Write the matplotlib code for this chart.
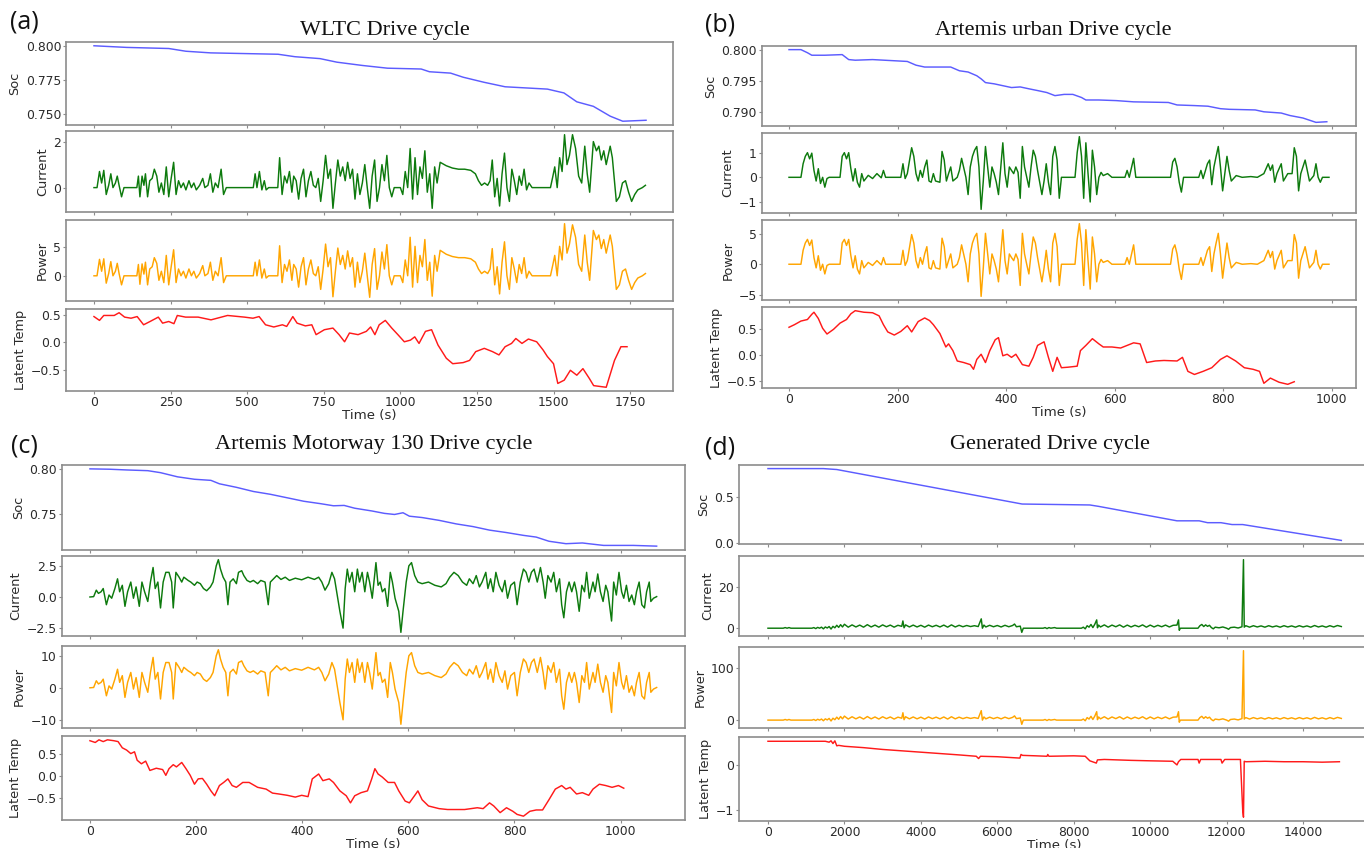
import matplotlib
matplotlib.use("Agg")
import matplotlib.pyplot as plt
from matplotlib.ticker import FixedLocator

# ---------------- (a) WLTC ----------------
wltc_soc_t = [0, 107, 244, 300, 381, 601, 656, 738, 793, 876, 958, 1068, 1095, 1164, 1205,
              1273, 1342, 1480, 1534, 1576, 1630, 1685, 1726, 1802]
wltc_soc = [0.800, 0.7988, 0.798, 0.796, 0.7948, 0.7938, 0.792, 0.7906, 0.788, 0.7856, 0.7836,
            0.783, 0.781, 0.780, 0.777, 0.7733, 0.770, 0.7683, 0.7655, 0.759, 0.7557, 0.7485,
            0.7448, 0.7455]
wltc_t = [0, 10, 18, 25, 32, 40, 48, 55, 62, 70,
          76, 82, 90, 98, 140, 145, 150, 157, 163, 168,
          175, 182, 190, 197, 205, 212, 220, 228, 236, 244,
          252, 260, 268, 276, 284, 292, 300, 310, 318, 326,
          334, 345, 355, 362, 372, 380, 388, 396, 405, 415,
          423, 432, 520, 526, 532, 540, 548, 556, 562, 570,
          600, 606, 614, 622, 630, 638, 646, 652, 660, 668,
          676, 684, 692, 700, 708, 716, 724, 732, 740, 748,
          756, 764, 772, 780, 788, 796, 804, 812, 820, 828,
          836, 844, 852, 860, 868, 876, 884, 892, 900, 908,
          916, 924, 932, 940, 948, 956, 964, 972, 980, 1000,
          1008, 1016, 1024, 1032, 1040, 1048, 1056, 1064, 1072, 1080,
          1088, 1096, 1104, 1112, 1120, 1130, 1150, 1170, 1190, 1210,
          1230, 1245, 1255, 1265, 1275, 1285, 1293, 1300, 1308, 1316,
          1324, 1332, 1340, 1348, 1356, 1364, 1372, 1380, 1388, 1396,
          1404, 1412, 1420, 1430, 1490, 1498, 1504, 1512, 1520, 1528,
          1536, 1544, 1552, 1562, 1572, 1582, 1592, 1602, 1610, 1618,
          1630, 1640, 1648, 1656, 1664, 1672, 1685, 1692, 1705, 1715,
          1725, 1735, 1745, 1755, 1765, 1775, 1790, 1800]
wltc_current = [0, 0, 0.7, 0.2, 0.75, -0.3, 0.1, 0.6, 0.0, 0.2,
                0.5, 0.1, -0.4, 0, 0, 0.5, -0.4, 0.5, 0.1, 0.6,
                -0.4, 0.3, 0.4, 0.8, 0.5, -0.2, 0.2, -0.3, 0.9, -0.4,
                0.4, 1.1, -0.3, 0.3, 0.0, 0.2, -0.1, 0.3, 0.0, 0.2,
                -0.1, 0.1, 0.4, 0.0, 0.1, 0.6, -0.2, 0.2, 0.0, 0.8,
                -0.3, 0, 0, 0.6, 0, 0.7, -0.1, 0.3, -0.1, 0,
                0, 1.3, -0.3, 0.5, 0.2, 0.7, -0.2, 0.5, 0.3, -0.5,
                0.4, 0.8, -0.4, 0.3, 0.7, 0.1, 0.0, 0.4, -0.6, 0.3,
                1.4, 0.4, 0.8, -0.9, 0.2, 1.2, 0.5, 0.9, 0.3, 1.1,
                0.4, 0.8, -0.5, 0.6, -0.3, 0.2, 1.0, 0.0, -0.9, 0.5,
                1.2, -0.6, 0, 1.0, 0.3, 1.4, 0, -0.4, 0, 0,
                -0.3, 0.7, 0, 1.7, -0.5, 1.3, -0.3, 0.9, 0.4, 1.6,
                -0.2, 0.6, -0.9, 0.9, 0.2, 1.1, 0.95, 0.85, 0.8, 0.8,
                0.75, 0.6, 0.3, 0.1, 0.2, 0.1, 0.3, 1.2, -0.4, 0.4,
                -0.8, 0.6, 1.5, 0, -0.6, 0.8, 0.3, -0.3, 0.5, 0.1,
                0.8, -0.1, 0.2, 0, 0, 0.5, 0.9, 0, 1.3, 0.7,
                2.3, 1.0, 1.4, 2.3, 1.7, 0.5, 0.2, 1.8, 0.6, -0.2,
                2.0, 1.6, 1.8, 1.2, 1.6, 1.0, 1.8, 1.3, -0.6, -0.4,
                0.2, 0.3, -0.2, -0.6, -0.3, -0.1, 0.0, 0.1]
wltc_power = [0, 0, 2.9, 0.8, 3.0, -1.3, 0.4, 2.5, 0.0, 0.8,
              2.2, 0.4, -1.6, 0, 0, 2.0, -1.5, 2.1, 0.3, 2.4,
              -1.6, 1.2, 1.6, 3.2, 2.2, -0.8, 0.8, -1.2, 3.6, -1.6,
              1.6, 4.6, -1.2, 1.2, 0, 0.8, -0.4, 1.2, 0, 0.8,
              -0.4, 0.4, 1.8, 0, 0.4, 2.4, -0.8, 0.8, 0, 3.2,
              -1.2, 0, 0, 2.4, 0, 2.8, -0.4, 1.2, -0.4, 0,
              0, 5.3, -1.2, 2.0, 0.8, 2.8, -0.8, 2.0, 1.2, -2.0,
              1.6, 3.2, -1.6, 1.2, 2.8, 0.4, 0, 1.6, -2.4, 1.2,
              5.6, 1.6, 3.2, -3.7, 0.8, 4.9, 2.0, 3.6, 1.2, 4.4,
              1.6, 3.2, -2.0, 2.4, -1.2, 0.8, 4.0, 0, -3.8, 2.0,
              4.8, -2.4, 0, 4.2, 1.2, 5.5, 0, -1.6, 0, 0,
              -1.2, 2.8, 0, 6.8, -2.0, 5.2, -1.2, 3.6, 1.6, 6.4,
              -0.8, 2.4, -3.6, 3.6, 0.8, 4.5, 3.8, 3.4, 3.2, 3.2,
              3.0, 2.4, 1.2, 0.4, 0.8, 0.4, 1.2, 4.8, -1.6, 1.6,
              -3.2, 2.4, 6.0, 0, -2.4, 3.2, 1.2, -1.2, 2.0, 0.4,
              3.2, -0.4, 0.8, 0, 0, 2.0, 3.6, 0, 5.2, 2.8,
              9.2, 4.0, 5.6, 9.0, 6.8, 2.0, 0.8, 7.2, 2.4, -0.8,
              8.0, 6.4, 7.2, 4.8, 6.4, 4.0, 7.2, 5.2, -2.4, -1.6,
              0.8, 1.2, -0.8, -2.4, -1.2, -0.4, 0, 0.4]
wltc_temp_t = [0, 18, 32, 66, 82, 100, 121, 141, 162, 183,
               210, 224, 244, 261, 272, 299, 340, 382, 436, 491,
               519, 539, 560, 587, 615, 629, 649, 663, 690, 711,
               725, 752, 780, 800, 818, 834, 862, 889, 903, 917,
               931, 951, 972, 992, 1013, 1033, 1047, 1061, 1082, 1102,
               1123, 1150, 1171, 1205, 1226, 1246, 1274, 1301, 1322, 1342,
               1363, 1377, 1397, 1418, 1445, 1466, 1480, 1500, 1514, 1535,
               1555, 1576, 1596, 1617, 1631, 1672, 1699, 1720, 1740]
wltc_temp = [0.47, 0.40, 0.49, 0.49, 0.54, 0.46, 0.44, 0.47, 0.32, 0.38,
             0.46, 0.35, 0.38, 0.34, 0.49, 0.46, 0.46, 0.41, 0.49, 0.46,
             0.44, 0.47, 0.32, 0.28, 0.32, 0.29, 0.47, 0.35, 0.30, 0.32,
             0.14, 0.23, 0.26, 0.14, 0.01, 0.17, 0.14, 0.20, 0.28, 0.14,
             0.32, 0.40, 0.26, 0.14, 0.01, 0.04, 0.10, -0.02, 0.20, 0.23,
             -0.05, -0.29, -0.39, -0.37, -0.33, -0.17, -0.11, -0.17, -0.23, -0.08,
             -0.02, 0.07, -0.02, 0.06, 0.01, -0.14, -0.26, -0.39, -0.75, -0.69,
             -0.51, -0.60, -0.48, -0.66, -0.79, -0.82, -0.33, -0.08, -0.08]

# ---------------- (b) Artemis urban ----------------
urban_soc_t = [0, 22, 34, 42, 66, 98, 110, 122, 154, 218, 234, 250, 298, 314, 330, 346, 354,
               362, 378, 394, 410, 426, 442, 459, 475, 490, 507, 523, 539, 547, 571, 603,
               635, 699, 715, 747, 772, 795, 811, 859, 875, 907, 923, 947, 971, 991]
urban_soc = [0.800, 0.800, 0.7995, 0.7991, 0.7991, 0.7992, 0.7984, 0.7983, 0.7984, 0.7981,
             0.7975, 0.7972, 0.7972, 0.7966, 0.7964, 0.7958, 0.7953, 0.7947, 0.7945, 0.7942,
             0.7939, 0.794, 0.7937, 0.7934, 0.7931, 0.7926, 0.7928, 0.7928, 0.7923, 0.7919,
             0.7919, 0.7918, 0.7916, 0.7915, 0.7911, 0.791, 0.7909, 0.7905, 0.7904, 0.7903,
             0.79, 0.7898, 0.7894, 0.789, 0.7883, 0.7884]
urban_t = [0, 22, 26, 30, 34, 38, 42, 46, 50, 54,
           58, 62, 66, 70, 74, 94, 98, 102, 106, 110,
           114, 118, 122, 126, 130, 134, 138, 146, 154, 162,
           170, 174, 178, 206, 210, 214, 218, 226, 230, 234,
           238, 242, 246, 250, 254, 258, 262, 266, 270, 278,
           282, 286, 290, 294, 298, 302, 310, 314, 318, 326,
           330, 334, 338, 342, 346, 350, 354, 358, 362, 366,
           370, 374, 378, 382, 386, 394, 398, 402, 406, 410,
           414, 418, 422, 426, 430, 434, 438, 442, 446, 450,
           454, 458, 466, 470, 474, 478, 482, 486, 490, 494,
           498, 502, 527, 531, 535, 539, 543, 547, 551, 555,
           559, 563, 567, 571, 575, 579, 587, 595, 619, 623,
           627, 635, 639, 703, 707, 711, 715, 719, 723, 727,
           755, 759, 763, 771, 775, 779, 783, 787, 791, 795,
           799, 803, 807, 811, 815, 824, 835, 851, 863, 875,
           883, 887, 891, 895, 899, 907, 911, 919, 927, 931,
           935, 939, 943, 951, 955, 959, 967, 971, 975, 979,
           983, 995]
urban_current = [0, 0, 0.55, 0.85, 1.0, 0.75, 0.98, 0.28, -0.15, 0.35,
                 -0.25, 0, -0.4, -0.05, 0, 0, 0.85, 1.0, 0.75, 1.0,
                 0.35, -0.15, 0.35, -0.2, -0.4, 0.15, -0.15, 0.08, -0.05, 0.15,
                 -0.02, 0.28, 0, 0, 0.55, -0.05, 0.15, 1.2, 0.85, 0.15,
                 -0.15, 0.28, 0, 0.42, 0.7, -0.15, -0.2, 0.15, -0.15, -0.2,
                 1.05, 0.7, -0.15, 0.15, 0.42, -0.15, 0, 0.28, 0.77, 0,
                 -0.7, 0.42, 0.85, 1.1, 1.25, 0.42, -1.3, -0.15, 1.25, 0.42,
                 -0.4, 0.42, 0.15, -0.2, -0.7, 1.4, 0.15, -0.4, 0.42, 0.28,
                 0.15, 0.42, 0.2, -0.85, 1.25, 0.42, 0, -0.4, 0.42, 1.1,
                 0.85, 0.28, -0.7, -0.15, 0.55, -0.2, -0.7, 0.85, 1.25, 0.7,
                 -0.85, 0, 0, 1.0, 1.65, 0.85, -0.85, 1.4, 0.15, -1.0,
                 1.1, 0.42, -0.7, 0, 0.2, 0.07, 0.15, 0, 0, 0.28,
                 0, 0.77, 0, 0, 0.62, 0.77, 0.42, -0.2, -0.6, 0,
                 0, 0.28, -0.05, 0.55, 0.7, -0.3, 0.42, 0.85, 1.25, 0.42,
                 -0.55, 0.15, 0.85, 0.28, -0.15, 0.07, 0, 0.03, 0, 0.15,
                 0.55, 0.28, 0.5, -0.2, 0.15, 0.55, -0.15, 0.15, 0.15, 1.2,
                 0.85, -0.55, 0.15, 0.7, 0.28, -0.15, 0.07, 0.55, 0, -0.2,
                 0, 0]
urban_power = [0, 0, 2.3, 3.5, 4.1, 3.1, 4.0, 1.1, -0.6, 1.4,
               -1.0, 0, -1.6, -0.2, 0, 0, 3.5, 4.1, 3.1, 4.1,
               1.4, -0.6, 1.4, -0.8, -1.6, 0.6, -0.6, 0.3, -0.2, 0.6,
               -0.1, 1.1, 0, 0, 2.3, -0.2, 0.6, 4.9, 3.5, 0.6,
               -0.6, 1.1, 0, 1.7, 2.9, -0.6, -0.8, 0.6, -0.6, -0.8,
               4.3, 2.9, -0.6, 0.6, 1.7, -0.6, 0, 1.1, 3.2, 0,
               -2.9, 1.7, 3.5, 4.5, 5.1, 1.7, -5.3, -0.6, 5.1, 1.7,
               -1.6, 1.7, 0.6, -0.8, -2.9, 5.7, 0.6, -1.6, 1.7, 1.1,
               0.6, 1.7, 0.8, -3.5, 5.1, 1.7, 0, -1.6, 1.7, 4.5,
               3.5, 1.1, -2.9, -0.6, 2.3, -0.8, -2.9, 3.5, 5.1, 2.9,
               -3.5, 0, 0, 4.1, 6.7, 3.5, -3.5, 5.7, 0.6, -4.1,
               4.5, 1.7, -2.9, 0, 0.8, 0.3, 0.6, 0, 0, 1.1,
               0, 3.2, 0, 0, 2.5, 3.2, 1.7, -0.8, -2.5, 0,
               0, 1.1, -0.2, 2.3, 2.9, -1.2, 1.7, 3.5, 5.1, 1.7,
               -2.3, 0.6, 3.5, 1.1, -0.6, 0.3, 0, 0.1, 0, 0.6,
               2.3, 1.1, 2.1, -0.8, 0.6, 2.3, -0.6, 0.6, 0.6, 4.9,
               3.5, -2.3, 0.6, 2.9, 1.1, -0.6, 0.3, 2.3, 0, -0.8,
               0, 0]
urban_temp_t = [0, 10, 22, 34, 42, 46, 54, 62, 70, 82,
                94, 106, 114, 122, 138, 154, 166, 174, 182, 194,
                206, 218, 226, 238, 250, 259, 266, 278, 289, 294,
                302, 310, 322, 334, 340, 346, 354, 362, 370, 380,
                386, 394, 402, 410, 418, 430, 442, 450, 458, 470,
                478, 486, 494, 502, 514, 531, 537, 547, 559, 571,
                579, 595, 611, 635, 647, 659, 675, 691, 715, 725,
                735, 747, 763, 779, 795, 807, 823, 839, 855, 867,
                875, 887, 903, 919, 931]
urban_temp = [0.53, 0.58, 0.65, 0.68, 0.78, 0.82, 0.70, 0.51, 0.40, 0.49,
              0.61, 0.68, 0.79, 0.85, 0.82, 0.81, 0.75, 0.58, 0.44, 0.38,
              0.45, 0.56, 0.44, 0.64, 0.71, 0.66, 0.58, 0.41, 0.15, 0.21,
              0.08, -0.12, -0.15, -0.19, -0.28, -0.09, 0.01, -0.15, 0.08, 0.29,
              0.33, -0.02, 0.01, -0.05, 0.01, -0.19, -0.22, -0.05, 0.18, 0.25,
              -0.05, -0.32, -0.05, -0.25, -0.24, -0.22, 0.08, 0.18, 0.31, 0.21,
              0.15, 0.15, 0.13, 0.23, 0.21, -0.15, -0.12, -0.11, -0.12, -0.05,
              -0.32, -0.38, -0.32, -0.25, -0.09, -0.02, -0.12, -0.25, -0.28, -0.32,
              -0.55, -0.45, -0.53, -0.57, -0.52]

# ---------------- (c) Artemis Motorway 130 ----------------
motor_soc_t = [0, 37, 69, 109, 133, 165, 197, 228, 244, 276,
               308, 340, 372, 403, 435, 459, 479, 499, 531, 555,
               574, 590, 602, 626, 658, 690, 722, 753, 785, 817,
               841, 865, 897, 928, 944, 968, 992, 1024, 1068]
motor_soc = [0.800, 0.7996, 0.7988, 0.798, 0.7958, 0.7912, 0.7885, 0.7873, 0.7835, 0.7796,
             0.775, 0.7719, 0.768, 0.7642, 0.7615, 0.7592, 0.7596, 0.7565, 0.7535, 0.7508,
             0.7496, 0.7515, 0.7477, 0.7462, 0.7431, 0.7392, 0.7362, 0.7323, 0.7296, 0.7265,
             0.7246, 0.72, 0.7173, 0.7181, 0.717, 0.7154, 0.7154, 0.7154, 0.7146]
motor_t = [0, 7, 12, 16, 21, 25, 31, 36, 41, 47,
           52, 56, 61, 66, 71, 77, 82, 87, 93, 98,
           103, 109, 114, 119, 123, 128, 133, 138, 143, 149,
           154, 157, 162, 168, 173, 177, 185, 190, 197, 202,
           208, 214, 220, 227, 232, 238, 242, 246, 251, 256,
           260, 264, 270, 276, 280, 286, 290, 296, 302, 308,
           316, 322, 330, 336, 340, 346, 352, 360, 368, 376,
           387, 399, 411, 423, 431, 437, 443, 450, 456, 461,
           467, 471, 477, 481, 485, 489, 494, 499, 504, 508,
           513, 518, 523, 527, 532, 539, 543, 547, 551, 556,
           561, 566, 570, 575, 582, 586, 590, 596, 601, 606,
           612, 618, 626, 638, 650, 662, 671, 678, 686, 694,
           702, 710, 715, 722, 728, 734, 739, 746, 750, 755,
           760, 765, 771, 777, 782, 787, 793, 800, 805, 811,
           817, 822, 827, 832, 837, 843, 849, 854, 858, 863,
           869, 874, 879, 885, 889, 893, 898, 903, 908, 913,
           917, 922, 927, 932, 936, 941, 948, 952, 957, 962,
           967, 972, 976, 983, 987, 992, 997, 1002, 1006, 1011,
           1016, 1021, 1026, 1030, 1035, 1040, 1045, 1049, 1054, 1057,
           1062, 1068]
motor_current = [0, 0.03, 0.55, 0.29, 0.42, 0.68, -0.62, 0.16, -0.1, 0.68,
                 1.46, 0.42, 0.94, -0.75, 0.42, 1.2, -0.1, 0.81, -0.75, 1.2,
                 0.42, -0.36, 1.2, 2.37, 0.68, 1.2, -0.88, 1.2, 1.98, 1.98,
                 1.2, -0.88, 1.98, 1.59, 1.2, 1.59, 1.33, 1.2, 0.94, 1.2,
                 1.07, 0.68, 0.5, 0.81, 1.2, 2.5, 3.0, 2.24, 1.59, 1.2,
                 -0.62, 1.2, 1.46, 1.07, 1.98, 2.11, 1.72, 1.33, 1.2, 1.33,
                 1.07, 1.33, 1.2, -0.62, 1.2, 1.46, 1.72, 1.41, 1.59, 1.33,
                 1.51, 1.38, 1.59, 1.41, 1.59, 1.2, 0.55, 1.07, 1.98, 1.46,
                 -0.1, -1.15, -2.5, 0.68, 2.24, 1.2, 1.98, 0.42, 2.24, 1.2,
                 1.98, 0.42, 1.98, 1.2, -0.1, 2.76, 0.94, 1.2, 0.42, 0.68,
                 -0.75, 1.98, 1.2, -0.1, -1.15, -2.84, -1.15, 1.2, 2.5, 2.76,
                 1.72, 1.2, 1.07, 1.2, 0.94, 0.81, 1.07, 1.59, 1.98, 1.72,
                 1.2, 0.94, 1.46, 1.07, 1.72, 0.81, 1.2, 1.98, 0.68, 1.46,
                 0.42, 1.98, 0.94, 0.42, 1.33, -0.1, 0.94, 1.2, -0.62, 1.2,
                 2.24, 1.98, 1.2, 1.98, 2.24, 1.2, 2.37, 1.2, -0.1, 1.72,
                 1.2, 1.98, 0.42, 1.46, -0.62, -1.67, 0.42, 1.2, 0.42, 1.2,
                 0.42, -1.15, 0.94, 0.42, 1.98, -0.1, 1.2, 0.42, 1.85, 0.42,
                 -0.36, 0.94, 0.42, -1.93, 1.2, 0.16, 1.98, 0.42, -0.1, 0.94,
                 -0.36, 0.16, -0.62, 0.42, 1.2, -0.62, -0.88, 0.42, 1.2, -0.36,
                 -0.1, 0.03]
motor_power = [0, 0.1, 2.2, 1.2, 1.7, 2.7, -2.5, 0.6, -0.4, 2.7,
               5.8, 1.7, 3.8, -3.0, 1.7, 4.8, -0.4, 3.2, -3.0, 4.8,
               1.7, -1.4, 4.8, 9.5, 2.7, 4.8, -3.5, 4.8, 7.9, 7.9,
               4.8, -3.5, 7.9, 6.4, 4.8, 6.4, 5.3, 4.8, 3.8, 4.8,
               4.3, 2.7, 2.0, 3.2, 4.8, 10.0, 11.9, 9.0, 6.4, 4.8,
               -2.5, 4.8, 5.8, 4.3, 7.9, 8.4, 6.9, 5.3, 4.8, 5.3,
               4.3, 5.3, 4.8, -2.5, 4.8, 5.8, 6.9, 5.6, 6.4, 5.3,
               6.0, 5.5, 6.4, 5.6, 6.4, 4.8, 2.2, 4.3, 7.9, 5.8,
               -0.4, -4.6, -10.0, 2.7, 9.0, 4.8, 7.9, 1.7, 9.0, 4.8,
               7.9, 1.7, 7.9, 4.8, -0.4, 11.0, 3.8, 4.8, 1.7, 2.7,
               -3.0, 7.9, 4.8, -0.4, -4.6, -11.4, -4.6, 4.8, 10.0, 11.0,
               6.9, 4.8, 4.3, 4.8, 3.8, 3.2, 4.3, 6.4, 7.9, 6.9,
               4.8, 3.8, 5.8, 4.3, 6.9, 3.2, 4.8, 7.9, 2.7, 5.8,
               1.7, 7.9, 3.8, 1.7, 5.3, -0.4, 3.8, 4.8, -2.5, 4.8,
               9.0, 7.9, 4.8, 7.9, 9.0, 4.8, 9.5, 4.8, -0.4, 6.9,
               4.8, 7.9, 1.7, 5.8, -2.5, -6.7, 1.7, 4.8, 1.7, 4.8,
               1.7, -4.6, 3.8, 1.7, 7.9, -0.4, 4.8, 1.7, 7.4, 1.7,
               -1.4, 3.8, 1.7, -7.7, 4.8, 0.6, 7.9, 1.7, -0.4, 3.8,
               -1.4, 0.6, -2.5, 1.7, 4.8, -2.5, -3.5, 1.7, 4.8, -1.4,
               -0.4, 0.1]
motor_temp_t = [0, 10, 17, 25, 33, 45, 53, 61, 69, 77,
                84, 89, 97, 105, 113, 125, 137, 143, 149, 157,
                163, 173, 181, 189, 197, 204, 212, 220, 228, 235,
                244, 252, 260, 268, 276, 288, 300, 316, 332, 344,
                356, 372, 387, 399, 411, 419, 431, 439, 451, 459,
                471, 483, 491, 499, 511, 523, 531, 537, 543, 551,
                562, 574, 582, 594, 602, 614, 618, 626, 638, 658,
                674, 706, 730, 741, 753, 761, 773, 785, 797, 805,
                817, 829, 841, 853, 865, 877, 889, 897, 905, 917,
                928, 940, 948, 960, 972, 984, 996, 1006]
motor_temp = [0.80, 0.76, 0.82, 0.78, 0.82, 0.80, 0.78, 0.64, 0.59, 0.51,
              0.55, 0.36, 0.28, 0.34, 0.13, 0.18, 0.15, 0.02, 0.17, 0.26,
              0.21, 0.31, 0.17, 0.02, -0.18, -0.06, -0.05, -0.18, -0.33, -0.44,
              -0.21, -0.14, -0.06, -0.21, -0.25, -0.14, -0.14, -0.25, -0.29, -0.38,
              -0.40, -0.43, -0.47, -0.43, -0.46, -0.06, 0.05, -0.10, -0.06, -0.14,
              -0.33, -0.44, -0.60, -0.44, -0.37, -0.33, -0.06, 0.17, 0.05, -0.02,
              -0.14, -0.14, -0.33, -0.56, -0.60, -0.40, -0.33, -0.53, -0.67, -0.73,
              -0.75, -0.75, -0.71, -0.73, -0.60, -0.67, -0.82, -0.71, -0.79, -0.86,
              -0.90, -0.79, -0.76, -0.76, -0.53, -0.29, -0.21, -0.29, -0.25, -0.40,
              -0.37, -0.43, -0.29, -0.18, -0.21, -0.25, -0.21, -0.27]

# ---------------- (d) Generated ----------------
gen_soc_t = [0, 1450, 1800, 6650, 8420, 8650, 10700, 11280, 11500, 11850, 12140, 12420, 15000]
gen_soc = [0.80, 0.80, 0.79, 0.42, 0.41, 0.395, 0.24, 0.24, 0.22, 0.22, 0.20, 0.20, 0.03]
gen_t = [0, 400, 450, 500, 550, 600, 1150, 1200, 1250, 1300,
         1350, 1400, 1450, 1500, 1550, 1600, 1650, 1700, 1750, 1800,
         1850, 1900, 1950, 2000, 2100, 2200, 2300, 2400, 2500, 2600,
         2700, 2800, 2900, 3000, 3100, 3200, 3300, 3400, 3500, 3530,
         3560, 3600, 3700, 3800, 3900, 4000, 4100, 4200, 4300, 4400,
         4500, 4600, 4700, 4800, 4900, 5000, 5100, 5200, 5300, 5400,
         5500, 5580, 5610, 5650, 5700, 5800, 5900, 6000, 6100, 6200,
         6300, 6400, 6450, 6500, 6600, 6640, 6680, 7200, 7250, 7300,
         7350, 7400, 7500, 7550, 8200, 8250, 8300, 8350, 8400, 8450,
         8500, 8550, 8600, 8620, 8650, 8700, 8800, 8900, 9000, 9100,
         9200, 9300, 9400, 9500, 9600, 9700, 9800, 9900, 10000, 10100,
         10200, 10300, 10400, 10500, 10600, 10700, 10740, 10760, 10790, 11250,
         11300, 11350, 11400, 11450, 11500, 11550, 11600, 11650, 11700, 11800,
         11900, 12000, 12050, 12100, 12200, 12300, 12400, 12440, 12460, 12500,
         12600, 12700, 12800, 12900, 13000, 13100, 13200, 13300, 13400, 13500,
         13600, 13700, 13800, 13900, 14000, 14100, 14200, 14300, 14400, 14500,
         14600, 14700, 14800, 14900, 15000]
gen_current = [0, 0, 0.3, 0, 0.3, 0, 0, 0.3, -0.2, 0.4,
               0, 0.5, -0.3, 0.6, 0.1, 0.8, -0.4, 0.9, 0.2, 1.4,
               0.4, 1.7, 0.6, 1.9, 0.5, 1.6, 0.6, 1.5, 0.5, 1.7,
               0.6, 1.5, 0.5, 1.6, 0.7, 1.5, 0.5, 1.4, 0.9, 3.5,
               0.2, 1.6, 0.6, 1.5, 0.6, 1.4, 0.5, 1.5, 0.7, 1.4,
               0.6, 1.5, 0.5, 1.6, 0.6, 1.4, 0.7, 1.3, 0.8, 1.2,
               0.8, 4.5, 0.0, 1.5, 0.6, 1.4, 0.7, 1.3, 0.6, 1.4,
               0.7, 1.3, 2.0, 0.7, 1.0, -2.0, 0, 0, 0.3, -0.2,
               0.3, 0, 0.3, 0, 0, 0.5, -0.3, 1.2, 0.5, 1.8,
               0.3, 1.9, 4.0, 0.2, 1.5, 0.6, 1.6, 0.5, 1.5, 0.7,
               1.6, 0.5, 1.5, 0.6, 1.4, 0.7, 1.6, 0.5, 1.5, 0.6,
               1.4, 0.7, 1.5, 0.6, 1.4, 1.5, 4.0, -1.0, 0, 0,
               1.2, 1.8, 0.8, 1.6, 0.9, 1.4, 0.3, -0.3, 0.5, 0.2,
               0.6, 0.0, -0.5, 0.3, 0.5, 0.1, 0.7, 33.0, 0.5, 1.2,
               0.5, 1.2, 0.6, 1.1, 0.5, 1.2, 0.6, 1.1, 0.5, 1.2,
               0.6, 1.1, 0.5, 1.2, 0.6, 1.1, 0.5, 1.3, 0.6, 1.1,
               0.5, 1.2, 0.6, 1.3, 0.8]
gen_power = [0, 0, 1.2, 0, 1.2, 0, 0, 1.2, -0.8, 1.6,
             0, 2.0, -1.2, 2.4, 0.4, 3.2, -1.6, 3.6, 0.8, 5.6,
             1.6, 6.8, 2.4, 7.6, 2.0, 6.4, 2.4, 6.0, 2.0, 6.8,
             2.4, 6.0, 2.0, 6.4, 2.8, 6.0, 2.0, 5.6, 3.6, 14.0,
             0.8, 6.4, 2.4, 6.0, 2.4, 5.6, 2.0, 6.0, 2.8, 5.6,
             2.4, 6.0, 2.0, 6.4, 2.4, 5.6, 2.8, 5.2, 3.2, 4.8,
             3.2, 18.0, 0.0, 6.0, 2.4, 5.6, 2.8, 5.2, 2.4, 5.6,
             2.8, 5.2, 8.0, 2.8, 4.0, -8.0, 0, 0, 1.2, -0.8,
             1.2, 0, 1.2, 0, 0, 2.0, -1.2, 4.8, 2.0, 7.2,
             1.2, 7.6, 16.0, 0.8, 6.0, 2.4, 6.4, 2.0, 6.0, 2.8,
             6.4, 2.0, 6.0, 2.4, 5.6, 2.8, 6.4, 2.0, 6.0, 2.4,
             5.6, 2.8, 6.0, 2.4, 5.6, 6.0, 16.0, -4.0, 0, 0,
             4.8, 7.2, 3.2, 6.4, 3.6, 5.6, 1.2, -1.2, 2.0, 0.8,
             2.4, 0.0, -2.0, 1.2, 2.0, 0.4, 2.8, 132.0, 2.0, 4.8,
             2.0, 4.8, 2.4, 4.4, 2.0, 4.8, 2.4, 4.4, 2.0, 4.8,
             2.4, 4.4, 2.0, 4.8, 2.4, 4.4, 2.0, 5.2, 2.4, 4.4,
             2.0, 4.8, 2.4, 5.2, 3.2]
gen_temp_t = [0, 1500, 1600, 1650, 1700, 1750, 1800, 1850, 2000, 2500,
              3000, 3500, 4000, 4500, 5000, 5450, 5510, 5560, 6000, 6590,
              6620, 6660, 7000, 7300, 7320, 7350, 8000, 8300, 8420, 8590,
              8620, 8800, 9500, 10000, 10590, 10700, 10740, 10800, 11250, 11280,
              11320, 11500, 11850, 11880, 11950, 12360, 12420, 12440, 12460, 12500,
              13000, 13500, 14000, 14500, 14950]
gen_temp = [0.52, 0.52, 0.50, 0.53, 0.47, 0.53, 0.42, 0.43, 0.41, 0.38,
            0.34, 0.31, 0.28, 0.25, 0.22, 0.19, 0.14, 0.19, 0.18, 0.15,
            0.23, 0.21, 0.20, 0.19, 0.23, 0.19, 0.20, 0.19, 0.09, 0.04,
            0.11, 0.12, 0.10, 0.09, 0.08, 0.00, 0.07, 0.12, 0.12, 0.04,
            0.12, 0.12, 0.12, 0.04, 0.12, 0.12, -1.00, -1.15, 0.08, 0.07,
            0.08, 0.07, 0.07, 0.06, 0.07]

titles = ["WLTC Drive cycle", "Artemis urban Drive cycle",
          "Artemis Motorway 130 Drive cycle", "Generated Drive cycle"]
panel_letters = ["(a)", "(b)", "(c)", "(d)"]
ylabels = ["Soc", "Current", "Power", "Latent Temp"]

# ---------------- styling / layout ----------------
W, H = 1364, 848
fig = plt.figure(figsize=(W / 100, H / 100), dpi=100)

COLORS = ["#5c5cff", "#0d7a0d", "#ffa500", "#ff1a1a"]
SPINE = "#8c8c8c"
TXT = "#2a2a2a"
TICKFS = 8.9
LABFS = 9.3


def px_box(x0, y0, x1, y1):
    return [x0 / W, 1 - y1 / H, (x1 - x0) / W, (y1 - y0) / H]


panels = [
    dict(x=(66.4, 673), rows=[(42, 125), (131, 212), (220, 301), (309, 391)],
         xlim=(-90, 1890), xticks=list(range(0, 1751, 250)),
         yt=[[0.75, 0.775, 0.8], [0, 2], [0, 5], [-0.5, 0.0, 0.5]],
         series=[(wltc_soc_t, wltc_soc), (wltc_t, wltc_current), (wltc_t, wltc_power),
                 (wltc_temp_t, wltc_temp)],
         title_x=385, title_y=30, letter=(24, 22)),
    dict(x=(762, 1356), rows=[(46, 126), (133, 213), (220, 300), (307, 388)],
         xlim=(-49.75, 1044.75), xticks=list(range(0, 1001, 200)),
         yt=[[0.79, 0.795, 0.8], [-1, 0, 1], [-5, 0, 5], [-0.5, 0.0, 0.5]],
         series=[(urban_soc_t, urban_soc), (urban_t, urban_current), (urban_t, urban_power),
                 (urban_temp_t, urban_temp)],
         title_x=1053, title_y=31, letter=(720, 25)),
    dict(x=(61.6, 685), rows=[(465, 550), (556, 636), (646, 728), (736, 820)],
         xlim=(-53.4, 1121.4), xticks=list(range(0, 1001, 200)),
         yt=[[0.75, 0.8], [-2.5, 0.0, 2.5], [-10, 0, 10], [-0.5, 0.0, 0.5]],
         series=[(motor_soc_t, motor_soc), (motor_t, motor_current), (motor_t, motor_power),
                 (motor_temp_t, motor_temp)],
         title_x=374, title_y=444, letter=(24, 446)),
    dict(x=(739.3, 1370), rows=[(465, 544), (556, 636), (647, 728), (737, 821)],
         xlim=(-750, 15750), xticks=list(range(0, 14001, 2000)),
         yt=[[0.0, 0.5], [0, 20], [0, 100], [-1, 0]],
         series=[(gen_soc_t, gen_soc), (gen_t, gen_current), (gen_t, gen_power),
                 (gen_temp_t, gen_temp)],
         title_x=1050, title_y=444, letter=(720, 448)),
]

for p, title, letter in zip(panels, titles, panel_letters):
    x0, x1 = p["x"]
    for k, (y0, y1) in enumerate(p["rows"]):
        ax = fig.add_axes(px_box(x0, y0, x1, y1))
        t, v = p["series"][k]
        ax.plot(t, v, color=COLORS[k], lw=1.05)
        ax.set_xlim(*p["xlim"])
        ax.xaxis.set_major_locator(FixedLocator(p["xticks"]))
        ax.yaxis.set_major_locator(FixedLocator(p["yt"][k]))
        ax.ticklabel_format(axis="y", useOffset=False)
        ax.set_ylabel(ylabels[k], fontsize=LABFS, color=TXT, labelpad=3)
        for s in ax.spines.values():
            s.set_color(SPINE)
            s.set_linewidth(1.2)
        ax.tick_params(axis="both", labelsize=TICKFS, labelcolor=TXT, color=SPINE,
                       length=2.5, width=0.8, pad=1.2)
        if k < 3:
            ax.tick_params(axis="x", labelbottom=False)
        else:
            ax.set_xlabel("Time (s)", fontsize=LABFS + 0.3, color=TXT, labelpad=0)
    fig.text(p["title_x"] / W, 1 - p["title_y"] / H, title, ha="center", va="center",
             fontsize=16, family="Liberation Serif", color="#111111")
    lx, ly = p["letter"]
    fig.text(lx / W, 1 - ly / H, letter, ha="center", va="center", fontsize=18,
             family="Open Sans", color="#111111")

fig.savefig("out.png", dpi=100)
